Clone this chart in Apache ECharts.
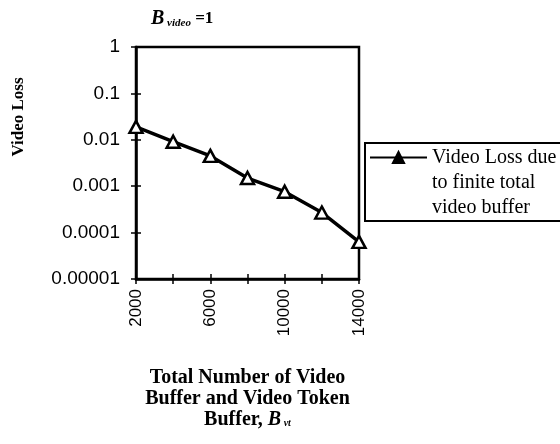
<!DOCTYPE html>
<html>
<head>
<meta charset="utf-8">
<script src="https://cdn.jsdelivr.net/npm/echarts@6/dist/echarts.min.js"></script>
<style>
  html, body { margin: 0; padding: 0; background: #fff; }
  #chart { width: 560px; height: 444px; }
</style>
</head>
<body>
<div id="chart"></div>
<script>
// Total number of video buffer + video token buffer (B_vt)
const bufferSizes = ['2000', '4000', '6000', '8000', '10000', '12000', '14000'];
// Video loss due to finite total video buffer
const videoLoss = [0.019, 0.0091, 0.0045, 0.0015, 0.00076, 0.00027, 0.000063];
// Log-scale tick labels, from 1e-5 up to 1
const yTickLabels = ['0.00001', '0.0001', '0.001', '0.01', '0.1', '1'];

const serif = '"Liberation Serif", "Times New Roman", serif';
const sans = '"Liberation Sans", Arial, sans-serif';
const seriesName = 'Video Loss due\nto finite total\nvideo buffer';

const chart = echarts.init(document.getElementById('chart'));

const gridBox = { left: 136, top: 47, width: 223, height: 232 };

chart.setOption({
  animation: false,
  backgroundColor: '#fff',
  title: {
    left: 146,
    top: 4,
    text: '{b|B}{s| video}{e| =1}',
    textStyle: {
      rich: {
        b: { fontFamily: serif, fontWeight: 'bold', fontStyle: 'italic', fontSize: 20, color: '#000' },
        s: { fontFamily: serif, fontWeight: 'bold', fontStyle: 'italic', fontSize: 11, color: '#000', padding: [8, 0, 0, 0] },
        e: { fontFamily: serif, fontWeight: 'bold', fontSize: 17, color: '#000' }
      }
    }
  },
  grid: Object.assign({
    show: true,
    borderColor: '#000',
    borderWidth: 2.5,
    backgroundColor: '#fff'
  }, gridBox),
  legend: {
    orient: 'vertical',
    left: 369,
    top: 95,
    padding: 0,
    itemWidth: 57,
    itemHeight: 14,
    itemGap: 0,
    itemStyle: { color: '#000', borderColor: '#000' },
    // two blank leading lines keep the first text line level with the icon
    formatter: name => ' \n \n' + name,
    textStyle: {
      fontFamily: serif,
      fontSize: 20,
      color: '#000',
      lineHeight: 25
    },
    data: [seriesName]
  },
  graphic: [
    {
      type: 'rect',
      shape: { x: 365, y: 143, width: 220, height: 78 },
      style: { fill: 'none', stroke: '#000', lineWidth: 2 },
      z: 0
    },
    {
      type: 'text',
      x: 19,
      y: 117,
      rotation: Math.PI / 2,
      style: {
        text: 'Video Loss',
        fontFamily: serif,
        fontWeight: 'bold',
        fontSize: 17,
        fill: '#000',
        align: 'center',
        verticalAlign: 'middle'
      }
    }
  ],
  xAxis: [
    {
      type: 'category',
      data: bufferSizes,
      boundaryGap: false,
      axisLine: { lineStyle: { color: '#000', width: 2.5 } },
      axisTick: { interval: 0, length: 5, lineStyle: { color: '#000', width: 1.5 } },
      axisLabel: {
        interval: 1,
        rotate: 90,
        fontFamily: sans,
        fontSize: 17,
        color: '#000',
        margin: 10
      },
      splitLine: { show: false },
      name: '{t|Total Number of Video}\n{t|Buffer and Video Token}\n{t|Buffer, }{bi|B}{sub| vt}',
      nameLocation: 'middle',
      nameGap: 88,
      nameTextStyle: {
        rich: {
          t: { fontFamily: serif, fontWeight: 'bold', fontSize: 20, color: '#000', lineHeight: 21 },
          bi: { fontFamily: serif, fontWeight: 'bold', fontStyle: 'italic', fontSize: 20, color: '#000', lineHeight: 21 },
          sub: { fontFamily: serif, fontWeight: 'bold', fontStyle: 'italic', fontSize: 10, color: '#000', lineHeight: 21, padding: [8, 0, 0, 0] }
        }
      }
    },
    {
      type: 'category',
      data: bufferSizes,
      boundaryGap: false,
      position: 'bottom',
      axisLine: { show: false },
      axisTick: { interval: 0, inside: true, length: 5, lineStyle: { color: '#000', width: 1.5 } },
      axisLabel: { show: false },
      splitLine: { show: false }
    }
  ],
  yAxis: [
    {
      type: 'log',
      logBase: 10,
      min: 0.00001,
      max: 1,
      axisLine: { show: true, lineStyle: { color: '#000', width: 2.5 } },
      axisTick: { show: true, length: 5, lineStyle: { color: '#000', width: 1.5 } },
      axisLabel: {
        fontFamily: sans,
        fontSize: 19,
        color: '#000',
        margin: 16,
        formatter: v => yTickLabels[Math.round(Math.log10(v)) + 5]
      },
      splitLine: { show: false }
    },
    {
      type: 'log',
      logBase: 10,
      min: 0.00001,
      max: 1,
      position: 'left',
      axisLine: { show: false },
      axisTick: { show: true, inside: true, length: 5, lineStyle: { color: '#000', width: 1.5 } },
      axisLabel: { show: false },
      splitLine: { show: false }
    }
  ],
  series: [
    {
      name: seriesName,
      type: 'line',
      xAxisIndex: 0,
      yAxisIndex: 0,
      data: videoLoss,
      symbol: 'triangle',
      symbolSize: [13, 12],
      showAllSymbol: true,
      lineStyle: { color: '#000', width: 3.5 },
      itemStyle: { color: '#fff', borderColor: '#000', borderWidth: 2.5 },
      z: 5
    }
  ]
});
</script>
</body>
</html>
